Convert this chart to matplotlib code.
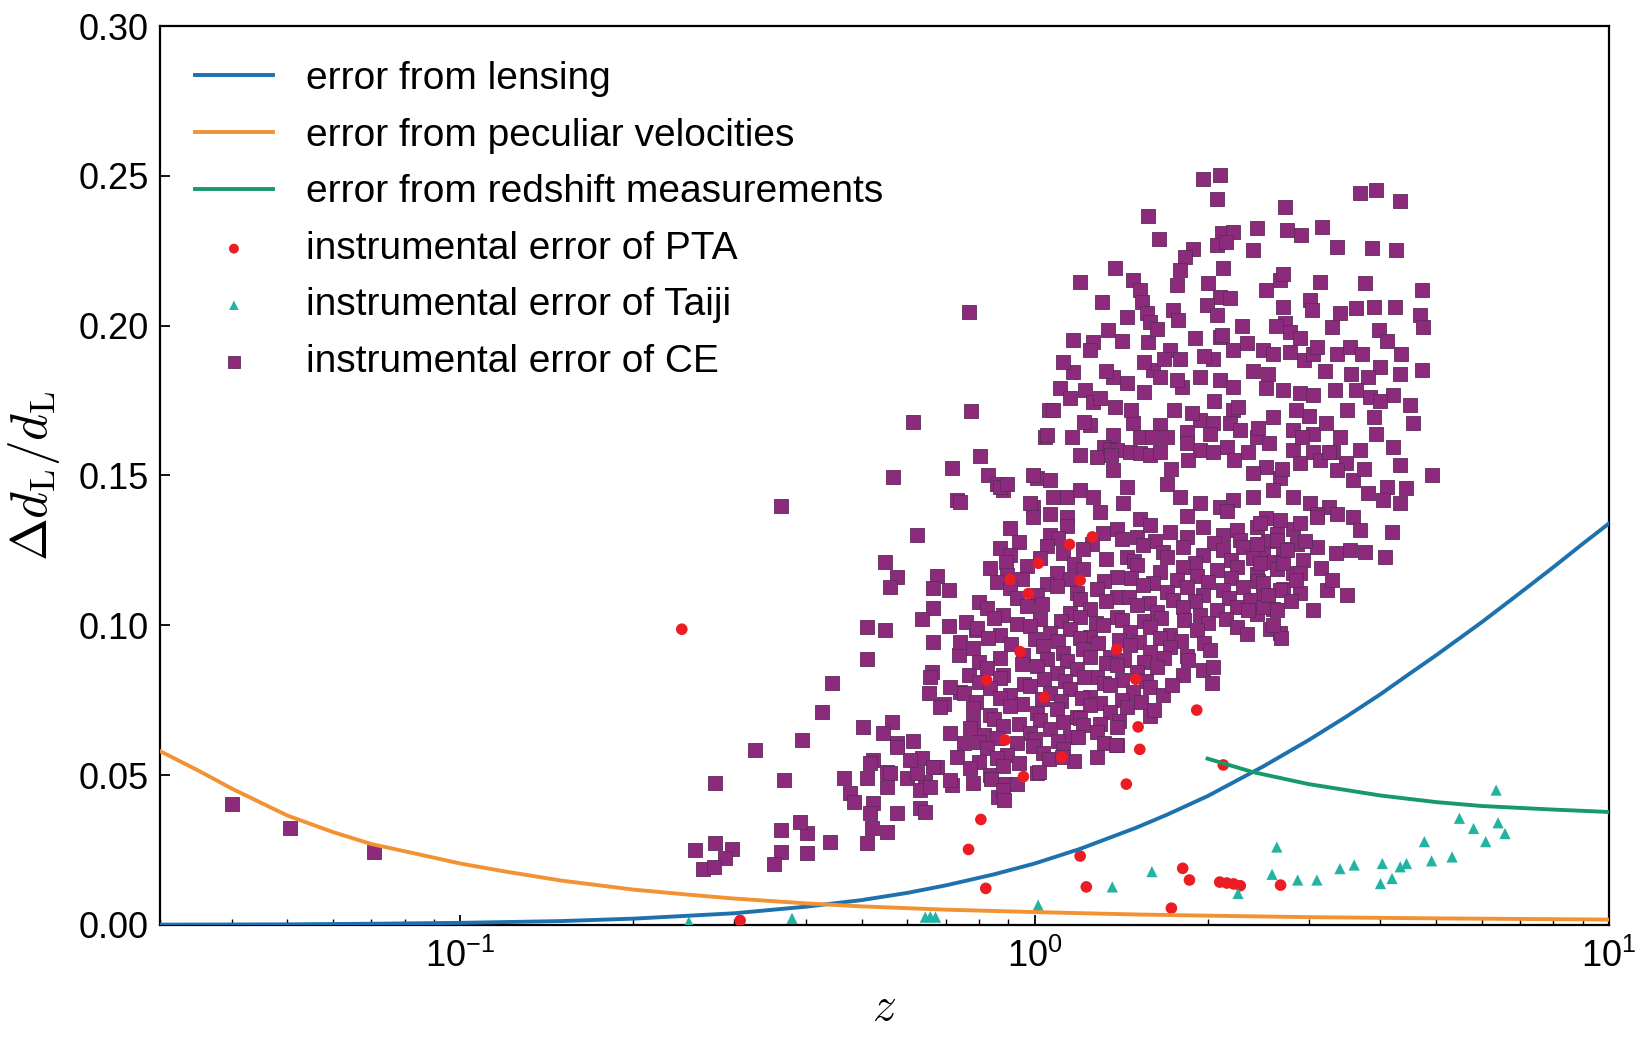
import matplotlib
matplotlib.use("Agg")
import matplotlib.pyplot as plt
from matplotlib.ticker import FormatStrFormatter, LogLocator

plt.rcParams["font.family"] = ["Liberation Sans", "DejaVu Sans"]
plt.rcParams["mathtext.fontset"] = "cm"

# -----------------------------
# Curves
# -----------------------------
z_lens = [0.03, 0.05, 0.07, 0.1, 0.15, 0.2, 0.3, 0.4, 0.5, 0.6, 0.7, 0.85,
          1.0, 1.2, 1.5, 1.7, 2.0, 2.5, 3.0, 3.5, 4.0, 4.5, 5.0, 6.0, 7.0, 8.0, 9.0, 10.0]
err_lens = [0.0001, 0.0002, 0.0004, 0.0007, 0.0013, 0.0021, 0.0039, 0.0061, 0.0083, 0.0107,
            0.0132, 0.0169, 0.0205, 0.0254, 0.0324, 0.0368, 0.0430, 0.0529, 0.0617, 0.0697,
            0.0770, 0.0839, 0.0900, 0.1010, 0.1108, 0.1194, 0.1272, 0.1340]

z_pv = [0.03, 0.035, 0.04, 0.05, 0.06, 0.07, 0.085, 0.1, 0.12, 0.15, 0.2, 0.25, 0.3,
        0.4, 0.5, 0.7, 1.0, 1.5, 2.0, 3.0, 5.0, 7.0, 10.0]
err_pv = [0.0580, 0.0515, 0.0455, 0.0365, 0.0310, 0.0270, 0.0235, 0.0205, 0.0178, 0.0148,
          0.0118, 0.0101, 0.0088, 0.0072, 0.0062, 0.0051, 0.0043, 0.0035, 0.0031, 0.0026,
          0.0022, 0.0020, 0.0018]

z_spec = [2.0, 2.4, 3.0, 4.0, 5.0, 6.0, 8.0, 10.0]
err_spec = [0.0555, 0.0510, 0.0470, 0.0432, 0.0410, 0.0397, 0.0385, 0.0377]

# -----------------------------
# PTA points
# -----------------------------
pta_z = [0.243, 0.307, 0.767, 0.806, 0.822, 1.2, 1.23, 0.956, 1.115, 1.015,
         1.2, 0.906, 0.943, 0.825, 0.888, 1.04, 1.26, 1.15, 1.915, 1.514,
         1.524, 1.444, 2.13, 1.81, 1.86, 2.10, 2.16, 2.22, 2.28, 2.68,
         1.73, 0.975, 1.50, 1.39]
pta_err = [0.0987, 0.0015, 0.0252, 0.0352, 0.0122, 0.0230, 0.0127, 0.0495, 0.0560, 0.1207,
           0.1150, 0.1153, 0.0912, 0.0817, 0.0617, 0.0760, 0.1295, 0.1270, 0.0717, 0.0661,
           0.0586, 0.0470, 0.0534, 0.0189, 0.0150, 0.0143, 0.0140, 0.0137, 0.0131, 0.0133,
           0.0056, 0.1106, 0.0820, 0.0920]

# -----------------------------
# Taiji points
# -----------------------------
taiji_z = [6.36, 5.49, 5.81, 6.41, 6.59, 6.1, 4.77, 4.91, 5.33, 4.44,
           4.33, 4.03, 4.19, 4.0, 3.6, 3.40, 3.1, 2.87, 2.64, 2.59,
           2.26, 1.60, 1.365, 1.014, 0.658, 0.645, 0.672, 0.378, 0.25]
taiji_err = [0.0450, 0.0356, 0.0322, 0.0341, 0.0305, 0.0278, 0.0278, 0.0214, 0.0227, 0.0205,
             0.0194, 0.0205, 0.0155, 0.0138, 0.0200, 0.0188, 0.0150, 0.0150, 0.0260, 0.0169,
             0.0105, 0.0178, 0.0127, 0.0066, 0.0028, 0.0026, 0.0026, 0.0022, 0.0010]

# -----------------------------
# CE points
# -----------------------------
ce_z = [
    # sparse low-z / left part
    0.040, 0.0505, 0.0706,
    0.361, 0.623, 0.549, 0.575, 0.56, 0.675, 0.666, 0.708, 0.666, 0.636, 0.708,
    0.511, 0.549, 0.511, 0.666, 0.79, 0.737, 0.767, 0.662, 0.654, 0.694, 0.742,
    0.443, 0.426, 0.564, 0.503, 0.545, 0.575, 0.615, 0.394, 0.326, 0.636, 0.524,
    0.553, 0.676, 0.599, 0.645, 0.511, 0.465, 0.366, 0.278, 0.477, 0.553, 0.632,
    0.718, 0.888, 0.865, 0.484, 0.524, 0.632, 0.575, 0.517, 0.553, 0.521, 0.511,
    0.441, 0.401, 0.39, 0.401, 0.361, 0.361, 0.351, 0.278, 0.297, 0.256, 0.289,
    0.265, 0.276, 0.645,
    0.658, 0.713, 0.752, 0.685, 0.713, 0.752, 0.732, 0.666, 0.713, 0.623, 0.607,
    0.658, 0.575, 0.517, 0.56, 0.732,
    # upper left
    0.767, 0.774, 0.615, 0.804, 0.718, 0.566, 0.831, 0.859, 0.882, 0.742, 1.008,
    1.057, 1.043, 0.994, 0.994,
    # top of the cloud
    1.966, 2.1, 2.073, 2.727, 3.68, 3.93, 4.32, 1.578, 1.649, 2.116, 2.216, 2.073,
    2.15, 2.437, 2.745, 2.913, 3.16, 3.36, 3.86, 4.26, 2.402, 1.889, 1.829, 1.79,
    2.13, 1.38, 1.2, 1.308, 1.486, 1.526, 1.536, 1.767, 2.007, 2.1, 2.19, 2.53,
    2.67, 2.71, 3.14, 3.76, 4.72, 1.446, 1.567, 1.589, 1.743, 1.779, 1.994, 2.073,
    2.1, 2.71, 2.727, 3.01, 3.04, 3.4, 3.63, 3.89, 4.24, 4.68, 4.75, 3.97, 3.29,
    2.78, 1.344, 1.265, 1.168, 1.578, 1.72, 1.79, 2.046, 2.216, 2.338, 2.5, 2.6,
    2.78, 2.94, 3.05, 3.36, 3.54, 3.71, 4.35, 4.72, 4.32, 3.99, 3.81, 1.168, 1.107,
    1.224, 1.265, 1.371, 1.446, 1.38, 1.61, 1.65, 1.804, 1.941, 2.1, 2.216, 2.53,
    2.71, 2.9, 3.05, 3.33, 3.63, 3.83, 4.21, 4.5, 4.56, 3.89, 3.93, 4.91, 4.21,
    4.32, 4.1, 4.44, 3.68, 3.49, 3.31, 3.05, 3.22, 2.82, 2.6, 2.437, 2.56, 2.216,
    2.19, 2.28, 1.941, 2.046, 1.84, 1.65, 1.7, 1.486, 1.526, 1.249, 1.371, 1.05,
    1.16, 1.078, 1.318, 1.283, 1.353, 1.389, 1.466, 1.526, 1.589, 1.65, 1.84, 1.941,
    2.046, 2.16, 2.82, 3.05, 2.9, 3.14, 2.53, 2.402, 2.67, 3.36, 3.59, 3.81, 4.04,
    4.32, 0.871, 0.894, 0.995, 1.064, 0.982, 1.078, 1.137, 1.2, 1.265, 1.371, 1.446,
    1.427, 1.7, 1.79, 1.941, 2.1, 2.216, 2.402, 2.6, 2.82, 3.01, 3.26,
    1.064, 1.137, 1.3, 1.526, 1.84, 2.16, 2.53, 3.1, 3.59,
    # fill in the upper body
    1.12, 1.25, 1.55, 1.9, 2.3, 2.9, 3.2, 3.5, 2.05, 1.75, 1.3, 2.4, 3.0,
    1.85, 2.35, 2.7, 3.4, 3.75, 1.2, 1.6, 4.0, 4.1,
    1.15, 1.22, 1.33, 1.42, 1.47, 1.55, 1.63, 1.68, 1.77, 1.88, 1.97, 2.02, 2.12,
    2.26, 2.45, 2.55, 2.63, 2.85, 3.1, 3.25, 2.22, 1.73, 1.36, 2.92, 3.55,
    # dense middle, row by row
    0.906, 1.064, 1.137, 1.317, 1.39, 1.505, 1.588, 1.72, 1.966, 2.13, 2.247, 2.435,
    2.638, 2.82,
    0.94, 1.10, 1.26, 1.42, 1.62, 1.84, 2.05, 2.28, 2.55,
    0.871, 0.906, 1.05, 1.122, 1.216, 1.446, 1.546, 1.675, 1.815, 1.966, 2.13, 2.308,
    2.5, 2.709,
    0.89, 1.02, 1.17, 1.33, 1.49, 1.70, 1.90, 2.20, 2.40, 2.60,
    0.837, 0.894, 0.969, 1.093, 1.216, 1.39, 1.505, 1.653, 1.815, 1.914, 2.075, 2.247,
    2.435, 2.638, 2.82,
    0.86, 0.95, 1.05, 1.15, 1.32, 1.47, 1.61, 1.77, 2.00, 2.20, 2.45,
    0.906, 1.009, 1.093, 1.184, 1.282, 1.39, 1.546, 1.698, 1.84, 1.966, 2.13, 2.308,
    2.5, 2.709,
    0.80, 0.93, 1.03, 1.20, 1.33, 1.46, 1.58, 1.74, 1.90, 2.18, 2.37,
    0.826, 0.882, 0.969, 1.152, 1.249, 1.39, 1.505, 1.632, 1.815, 1.94, 2.075, 2.247,
    2.435, 2.603,
    0.76, 0.85, 0.93, 1.02, 1.11, 1.20, 1.28, 1.42, 1.55, 1.66, 1.82, 2.00, 2.15,
    0.793, 0.871, 0.982, 1.064, 1.152, 1.249, 1.317, 1.466, 1.588, 1.72, 1.914, 2.247,
    2.34, 2.568, 2.674,
    0.74, 0.83, 0.91, 1.00, 1.10, 1.20, 1.29, 1.40, 1.52, 1.65, 1.80, 1.97,
    0.782, 0.956, 1.036, 1.122, 1.216, 1.353, 1.466, 1.588, 1.72, 1.84, 2.02,
    0.80, 0.87, 0.95, 1.05, 1.14, 1.25, 1.33, 1.43, 1.55, 1.68, 1.85,
    0.826, 0.882, 1.009, 1.093, 1.184, 1.282, 1.39, 1.505, 1.632, 1.815, 1.966, 2.046,
    0.80, 0.87, 0.96, 1.04, 1.13, 1.22, 1.32, 1.42, 1.56,
    0.837, 0.906, 0.982, 1.064, 1.152, 1.249, 1.353, 1.485, 1.588, 1.675,
    0.79, 0.87, 0.95, 1.03, 1.11, 1.21, 1.30, 1.42, 1.53,
    0.782, 0.837, 0.906, 1.009, 1.093, 1.184, 1.249, 1.353, 1.446, 1.588,
    0.78, 0.85, 0.94, 1.02, 1.12, 1.20, 1.30, 1.40,
    0.772, 0.815, 0.882, 0.982, 1.064, 1.152, 1.216, 1.282, 1.39,
    0.80, 0.86, 0.93, 1.00, 1.10, 1.19, 1.32,
    0.826, 0.894, 0.995, 1.036, 1.122, 1.282, 1.39,
    0.80, 0.86, 0.94, 1.06, 1.17,
    0.772, 0.837, 0.882, 1.009,
    0.78, 0.84, 0.93,
    0.882,
    # lower right edge of the cloud
    2.037, 1.735, 1.616, 1.385, 1.114, 1.016, 0.883, 2.68,
    # right part
    2.467, 2.674, 2.896, 3.096, 3.684, 4.183, 3.54, 3.757, 4.072, 2.435, 2.638, 2.859,
    3.096, 2.467, 2.709, 2.935, 2.896, 2.5, 2.674, 2.896, 3.224, 3.493, 2.5, 2.638,
    3.355,
    2.75, 2.95, 3.15, 3.35, 2.85, 3.05, 2.6, 2.8, 3.3, 2.35, 2.55,
]
ce_err = [
    0.0405, 0.0325, 0.0244,
    0.1398, 0.1301, 0.1212, 0.1160, 0.1127, 0.1164, 0.1123, 0.1118, 0.1057, 0.1020, 0.0997,
    0.0993, 0.0986, 0.0886, 0.0945, 0.0985, 0.0900, 0.0834, 0.0845, 0.0773, 0.0739, 0.0778,
    0.0808, 0.0712, 0.0678, 0.0661, 0.0639, 0.0606, 0.0615, 0.0617, 0.0584, 0.0556, 0.0550,
    0.0511, 0.0527, 0.0489, 0.0478, 0.0489, 0.0489, 0.0483, 0.0474, 0.0439, 0.0461, 0.0450,
    0.0467, 0.0472, 0.0427, 0.0411, 0.0406, 0.0389, 0.0372, 0.0372, 0.0311, 0.0322, 0.0272,
    0.0278, 0.0306, 0.0344, 0.0239, 0.0316, 0.0244, 0.0205, 0.0272, 0.0255, 0.0250, 0.0222,
    0.0188, 0.0194, 0.0377,
    0.0828, 0.0795, 0.0773, 0.0728, 0.0639, 0.0606, 0.0561, 0.0528, 0.0483, 0.0506, 0.0550,
    0.0461, 0.0595, 0.0539, 0.0506, 0.1418,
    0.2046, 0.1716, 0.1679, 0.1565, 0.1524, 0.1496, 0.1501, 0.1473, 0.1451, 0.1413, 0.1490,
    0.1718, 0.1629, 0.1395, 0.1362,
    0.2488, 0.2503, 0.2422, 0.2397, 0.2444, 0.2453, 0.2417, 0.2366, 0.2288, 0.2308, 0.2314, 0.2269,
    0.2280, 0.2325, 0.2319, 0.2302, 0.2330, 0.2264, 0.2258, 0.2252, 0.2252, 0.2255, 0.2230, 0.2185,
    0.2191, 0.2191, 0.2146, 0.2080, 0.2152, 0.2119, 0.2080, 0.2135, 0.2141, 0.2096, 0.2091, 0.2119,
    0.2152, 0.2174, 0.2146, 0.2141, 0.2119, 0.2030, 0.2041, 0.2013, 0.2052, 0.2019, 0.2068, 0.2036,
    0.1963, 0.2063, 0.2008, 0.2085, 0.2052, 0.2041, 0.2058, 0.2063, 0.2063, 0.2036, 0.1997, 0.1985, 0.1997,
    0.1980, 0.1985, 0.1946, 0.1952, 0.1946, 0.1918, 0.1890, 0.1890, 0.1918, 0.1941, 0.1918, 0.1907,
    0.1913, 0.1885, 0.1907, 0.1907, 0.1929, 0.1907, 0.1907, 0.1851, 0.1840, 0.1863, 0.1829, 0.1846, 0.1791,
    0.1785, 0.1746, 0.1829, 0.1807, 0.1729, 0.1851, 0.1829, 0.1796, 0.1829, 0.1818, 0.1796, 0.1791,
    0.1785, 0.1774, 0.1768, 0.1785, 0.1785, 0.1762, 0.1768, 0.1735, 0.1674, 0.1696, 0.1640, 0.1501, 0.1596,
    0.1535, 0.1463, 0.1457, 0.1585, 0.1540, 0.1579, 0.1640, 0.1674, 0.1652, 0.1696, 0.1629, 0.1607, 0.1718,
    0.1674, 0.1652, 0.1685, 0.1674, 0.1646, 0.1668, 0.1629, 0.1674, 0.1629, 0.1668, 0.1635, 0.1635,
    0.1629, 0.1718, 0.1596, 0.1563, 0.1590, 0.1585, 0.1579, 0.1574, 0.1568, 0.1579, 0.1607, 0.1585,
    0.1579, 0.1596, 0.1585, 0.1579, 0.1540, 0.1551, 0.1529, 0.1507, 0.1490, 0.1518, 0.1485, 0.1440, 0.1418,
    0.1407, 0.1463, 0.1473, 0.1501, 0.1485, 0.1407, 0.1429, 0.1429, 0.1451, 0.1429, 0.1518, 0.1463,
    0.1407, 0.1473, 0.1429, 0.1407, 0.1395, 0.1418, 0.1429, 0.1451, 0.1429, 0.1407, 0.1395,
    0.1372, 0.1360, 0.1377, 0.1355, 0.1366, 0.1381, 0.1358, 0.1371, 0.1362,
    0.1880, 0.1920, 0.1880, 0.1960, 0.2000, 0.1960, 0.1850, 0.1720, 0.1750, 0.1720, 0.1760,
    0.1850, 0.1700, 0.1550, 0.1580, 0.1520, 0.1630, 0.1520, 0.1570, 0.1630, 0.1750, 0.1950,
    0.1760, 0.1680, 0.1850, 0.1950, 0.1720, 0.1780, 0.1990, 0.1890, 0.1820, 0.1710, 0.1900,
    0.1640, 0.1970, 0.1730, 0.1660, 0.1840, 0.2000, 0.1720, 0.1930, 0.1580, 0.1550, 0.1520,
    0.1570, 0.1630, 0.1840,
    0.1325, 0.1302, 0.1331, 0.1309, 0.1322, 0.1296, 0.1335, 0.1312, 0.1327, 0.1300, 0.1318, 0.1329,
    0.1305, 0.1321,
    0.1279, 0.1291, 0.1270, 0.1288, 0.1282, 0.1294, 0.1274, 0.1286, 0.1280,
    0.1258, 0.1235, 0.1264, 0.1242, 0.1255, 0.1229, 0.1268, 0.1245, 0.1260, 0.1233, 0.1251, 0.1262,
    0.1238, 0.1254,
    0.1212, 0.1224, 0.1205, 0.1221, 0.1215, 0.1228, 0.1209, 0.1219, 0.1226, 0.1211,
    0.1191, 0.1168, 0.1197, 0.1175, 0.1188, 0.1162, 0.1201, 0.1178, 0.1193, 0.1166, 0.1184, 0.1195,
    0.1171, 0.1187, 0.1174,
    0.1144, 0.1156, 0.1139, 0.1153, 0.1147, 0.1159, 0.1141, 0.1152, 0.1145, 0.1157, 0.1149,
    0.1125, 0.1102, 0.1131, 0.1109, 0.1122, 0.1096, 0.1135, 0.1112, 0.1127, 0.1100, 0.1118, 0.1129,
    0.1105, 0.1121,
    0.1079, 0.1091, 0.1072, 0.1088, 0.1082, 0.1094, 0.1076, 0.1086, 0.1080, 0.1092, 0.1084,
    0.1058, 0.1035, 0.1064, 0.1042, 0.1055, 0.1029, 0.1068, 0.1045, 0.1060, 0.1033, 0.1051, 0.1062,
    0.1038, 0.1054,
    0.1012, 0.1024, 0.1005, 0.1021, 0.1015, 0.1027, 0.1009, 0.1019, 0.1013, 0.1025, 0.1017, 0.1008,
    0.1022,
    0.0991, 0.0968, 0.0997, 0.0975, 0.0988, 0.0962, 0.1001, 0.0978, 0.0993, 0.0966, 0.0984, 0.0995,
    0.0971, 0.0987, 0.0974,
    0.0944, 0.0956, 0.0939, 0.0953, 0.0947, 0.0959, 0.0941, 0.0952, 0.0945, 0.0957, 0.0949, 0.0940,
    0.0924, 0.0901, 0.0930, 0.0908, 0.0921, 0.0895, 0.0934, 0.0911, 0.0926, 0.0899, 0.0917,
    0.0878, 0.0890, 0.0871, 0.0887, 0.0881, 0.0893, 0.0875, 0.0885, 0.0879, 0.0891, 0.0883,
    0.0858, 0.0835, 0.0864, 0.0842, 0.0855, 0.0829, 0.0868, 0.0845, 0.0860, 0.0833, 0.0851, 0.0862,
    0.0812, 0.0824, 0.0805, 0.0821, 0.0815, 0.0827, 0.0809, 0.0819, 0.0813,
    0.0791, 0.0768, 0.0797, 0.0775, 0.0788, 0.0762, 0.0801, 0.0778, 0.0793, 0.0766,
    0.0744, 0.0756, 0.0739, 0.0753, 0.0747, 0.0759, 0.0741, 0.0752, 0.0745,
    0.0724, 0.0701, 0.0730, 0.0708, 0.0721, 0.0695, 0.0734, 0.0711, 0.0726, 0.0699,
    0.0674, 0.0686, 0.0669, 0.0683, 0.0677, 0.0689, 0.0671, 0.0682,
    0.0657, 0.0634, 0.0663, 0.0641, 0.0654, 0.0628, 0.0667, 0.0644, 0.0659,
    0.0611, 0.0623, 0.0606, 0.0620, 0.0614, 0.0626, 0.0608,
    0.0591, 0.0568, 0.0597, 0.0575, 0.0588, 0.0562, 0.0601,
    0.0544, 0.0556, 0.0539, 0.0553, 0.0547,
    0.0524, 0.0501, 0.0530, 0.0508,
    0.0474, 0.0486, 0.0469,
    0.0450,
    0.0806, 0.0800, 0.0717, 0.0600, 0.0561, 0.0511, 0.0417, 0.0959,
    0.1340, 0.1351, 0.1340, 0.1362, 0.1318, 0.1312, 0.1251, 0.1246, 0.1229, 0.1273, 0.1284, 0.1273,
    0.1262, 0.1207, 0.1207, 0.1218, 0.1173, 0.1140, 0.1118, 0.1107, 0.1118, 0.1101, 0.1062, 0.1051,
    0.1373,
    0.1250, 0.1280, 0.1190, 0.1240, 0.1150, 0.1050, 0.1000, 0.1080, 0.1150, 0.1050, 0.1100,
]

# -----------------------------
# Figure
# -----------------------------
fig = plt.figure(figsize=(16.38, 10.53), dpi=100)
ax = fig.add_axes([0.0977, 0.1216, 0.8846, 0.8537])

ax.scatter(ce_z, ce_err, marker="s", s=110, color="#8c2b7c",
           edgecolors="#5e2a5c", linewidths=0.6, zorder=2,
           label="instrumental error of CE")
ax.scatter(pta_z, pta_err, marker="o", s=70, color="#ec1c24",
           edgecolors="none", zorder=3, label="instrumental error of PTA")
ax.scatter(taiji_z, taiji_err, marker="^", s=65, color="#22b3a3",
           edgecolors="none", zorder=3, label="instrumental error of Taiji")

ax.plot(z_lens, err_lens, color="#1d72ad", lw=2.8, zorder=4,
        label="error from lensing")
ax.plot(z_pv, err_pv, color="#f39233", lw=2.8, zorder=4,
        label="error from peculiar velocities")
ax.plot(z_spec, err_spec, color="#17996b", lw=2.8, zorder=4,
        label="error from redshift measurements")

ax.set_xscale("log")
ax.set_xlim(0.03, 10)
ax.set_ylim(0, 0.30)
ax.set_yticks([0, 0.05, 0.10, 0.15, 0.20, 0.25, 0.30])
ax.yaxis.set_major_formatter(FormatStrFormatter("%.2f"))
ax.xaxis.set_minor_locator(LogLocator(base=10, subs=range(2, 10)))

ax.tick_params(which="both", direction="in", top=False, right=False,
               labelsize=26)
ax.tick_params(which="major", length=7, width=1.3)
ax.tick_params(which="minor", length=4, width=1.0)
ax.tick_params(axis="x", pad=10)
ax.tick_params(axis="y", pad=8)

for sp in ax.spines.values():
    sp.set_linewidth(1.6)

ax.set_xlabel(r"$z$", fontsize=34, labelpad=8)
ax.set_ylabel(r"$\Delta d_{\rm L}/d_{\rm L}$", fontsize=37, labelpad=12)

handles, labels = ax.get_legend_handles_labels()
order = [3, 4, 5, 1, 2, 0]
ax.legend([handles[i] for i in order], [labels[i] for i in order],
          loc="upper left", fontsize=28, frameon=False,
          handlelength=2.0, handletextpad=0.85, labelspacing=0.53,
          markerscale=0.85, borderaxespad=0.5)

fig.savefig("out.png", dpi=100)
